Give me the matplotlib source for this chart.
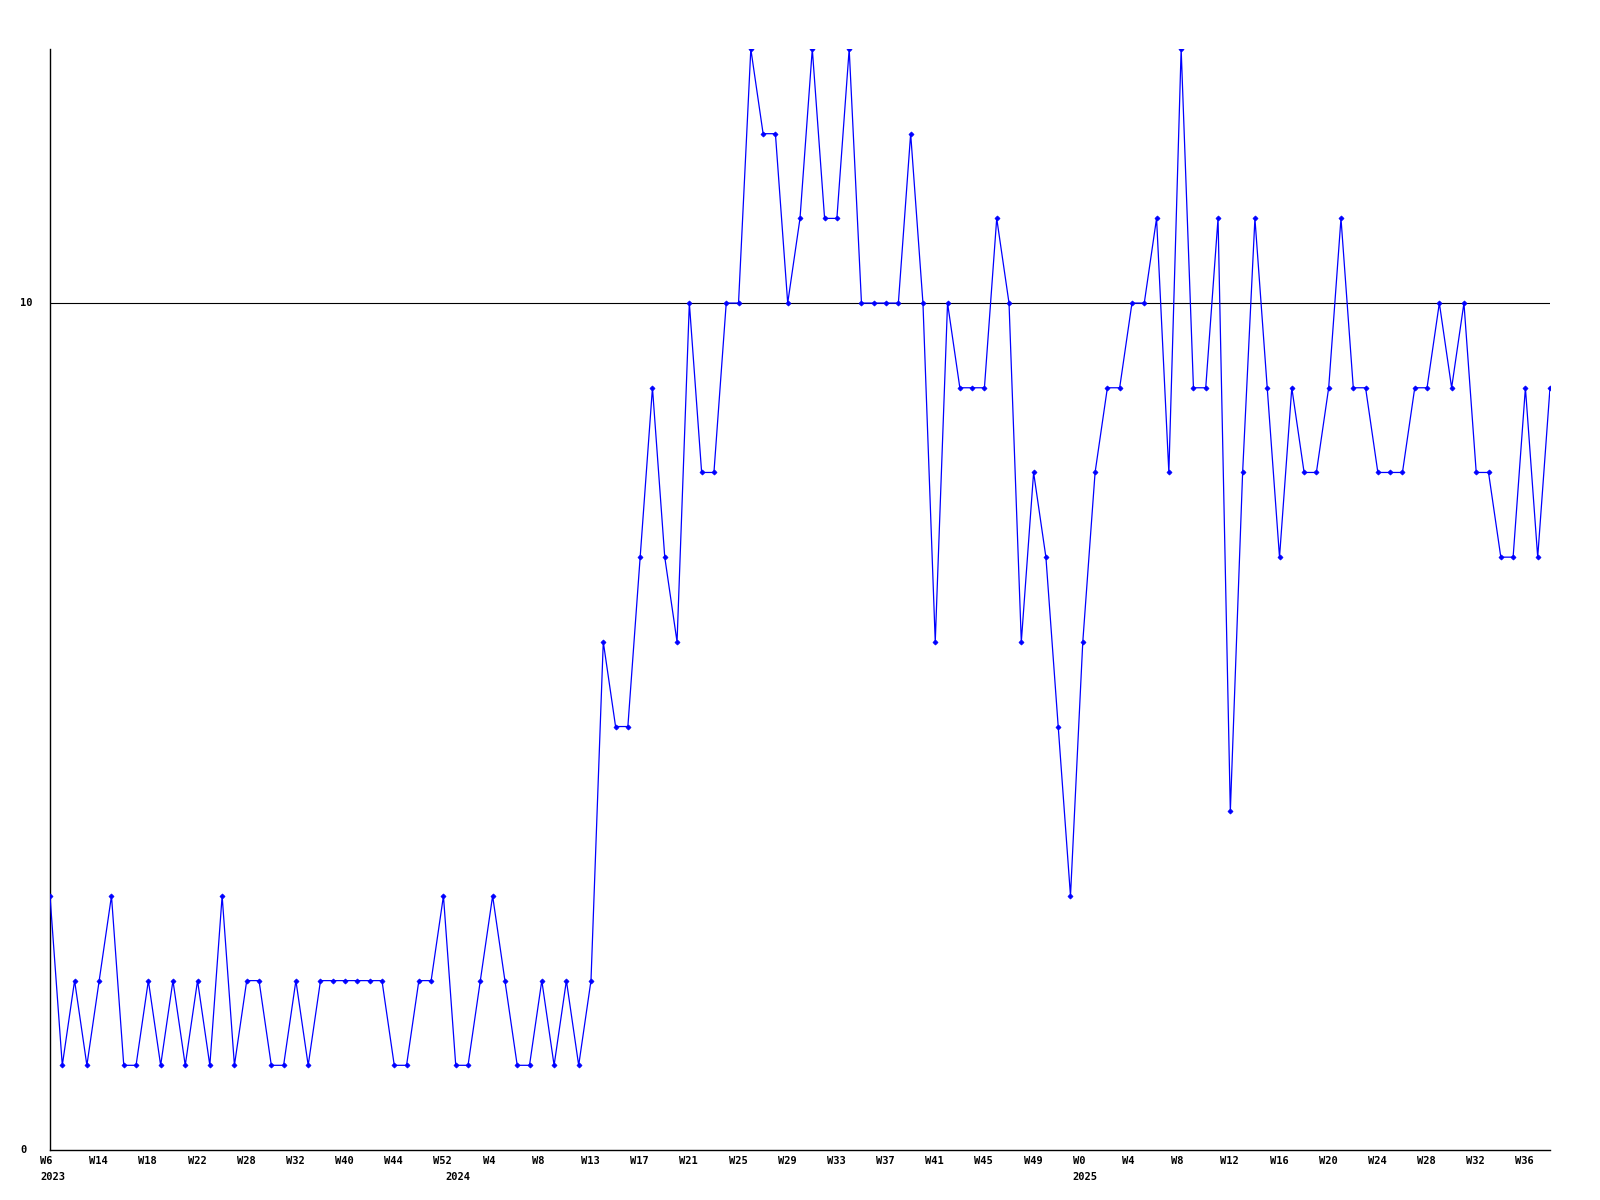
import matplotlib
matplotlib.use("Agg")
import matplotlib.pyplot as plt
from matplotlib.transforms import blended_transform_factory, ScaledTranslation

values = [3, 1, 2, 1, 2, 3, 1, 1, 2, 1, 2, 1, 2, 1, 3, 1, 2, 2, 1, 1,
          2, 1, 2, 2, 2, 2, 2, 2, 1, 1, 2, 2, 3, 1, 1, 2, 3, 2, 1, 1,
          2, 1, 2, 1, 2, 6, 5, 5, 7, 9, 7, 6, 10, 8, 8, 10, 10, 13, 12, 12,
          10, 11, 13, 11, 11, 13, 10, 10, 10, 10, 12, 10, 6, 10, 9, 9, 9, 11, 10, 6,
          8, 7, 5, 3, 6, 8, 9, 9, 10, 10, 11, 8, 13, 9, 9, 11, 4, 8, 11, 9,
          7, 9, 8, 8, 9, 11, 9, 9, 8, 8, 8, 9, 9, 10, 9, 10, 8, 8, 7, 7,
          9, 7, 9]

week_labels = ["W6", "W14", "W18", "W22", "W28", "W32", "W40", "W44", "W52", "W4",
               "W8", "W13", "W17", "W21", "W25", "W29", "W33", "W37", "W41", "W45",
               "W49", "W0", "W4", "W8", "W12", "W16", "W20", "W24", "W28", "W32", "W36"]
week_label_step = 4

year_labels = ["2023", "2024", "2025"]
year_label_index = [0, 33, 84]

y_tick_values = [0, 10]
y_tick_labels = ["0", "10"]
grid_values = [10]

W, H = 1600, 1200
fig = plt.figure(figsize=(16, 12), dpi=100)
ax = fig.add_axes([50 / W, 1 - 1150 / H, 1500 / W, 1101 / H])

x = list(range(len(values)))
ax.plot(x, values, color="#0000ff", lw=0.9, marker="D", markersize=2.6,
        markeredgewidth=0.5, zorder=3)

for g in grid_values:
    ax.axhline(g, color="black", lw=0.8, zorder=1)

ax.set_xlim(0, len(values) - 1)
ax.set_ylim(0, 13)

for s in ["top", "right"]:
    ax.spines[s].set_visible(False)
for s in ["left", "bottom"]:
    ax.spines[s].set_linewidth(1.0)
    ax.spines[s].set_color("black")

ax.set_xticks([])
ax.set_yticks([])

font = dict(family="DejaVu Sans Mono", fontweight="bold", fontsize=7.5, color="black")

xtrans = ax.get_xaxis_transform()
off = ScaledTranslation(-10 / 100, 0, fig.dpi_scale_trans)
for k, lab in enumerate(week_labels):
    ax.text(k * week_label_step, -11 / 1101, lab, transform=xtrans + off,
            ha="left", va="center", clip_on=False, **font)
for idx, lab in zip(year_label_index, year_labels):
    ax.text(idx, -27 / 1101, lab, transform=xtrans + off,
            ha="left", va="center", clip_on=False, **font)

ytrans = blended_transform_factory(fig.transFigure, ax.transData)
for v, lab in zip(y_tick_values, y_tick_labels):
    ax.text(20 / W, v, lab, transform=ytrans, ha="left", va="center", **font)

fig.savefig("out.png", dpi=100)
